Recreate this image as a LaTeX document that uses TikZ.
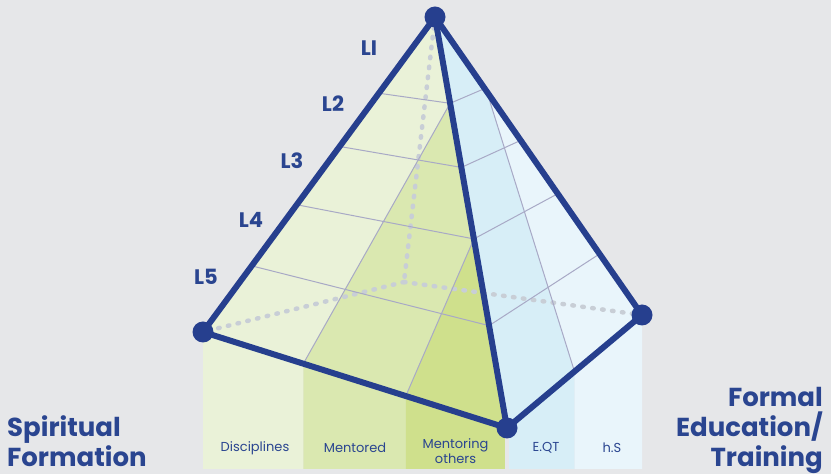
\documentclass[tikz,border=0pt]{standalone}
\usepackage{fontspec}
\setmainfont{Poppins}
\usetikzlibrary{calc}
\definecolor{bg}{HTML}{E6E7E9}
\definecolor{navy}{HTML}{263F8E}
\definecolor{txt}{HTML}{2A4590}
\definecolor{g1}{HTML}{EAF2D8}
\definecolor{g2}{HTML}{DAE8B0}
\definecolor{g3}{HTML}{CFE08C}
\definecolor{b1}{HTML}{D7EEF7}
\definecolor{b2}{HTML}{E9F5FB}
\definecolor{gridc}{HTML}{A8A9C6}
\definecolor{dotc}{HTML}{C8CED6}
\begin{document}
\begin{tikzpicture}[x=1pt,y=1pt,
 edge/.style={line width=6pt, draw=navy, line cap=round, line join=round},
 vert/.style={circle, fill=navy, inner sep=0pt, minimum size=21pt},
 gridline/.style={draw=gridc, line width=1pt},
 hidden/.style={draw=dotc, line width=4.5pt, line cap=round, dash pattern=on 1.5pt off 8.5pt},
 lvl/.style={font=\fontsize{21}{21}\selectfont\bfseries, text=txt, inner sep=0pt},
 cat/.style={font=\fontsize{13}{15}\selectfont, text=txt, align=center, inner sep=0pt},
 side/.style={font=\fontsize{26}{30}\selectfont\bfseries, text=txt, inner sep=0pt},
]
\fill[bg] (0,0) rectangle (831,474);
\useasboundingbox (0,0) rectangle (831,474);
% main vertices
\coordinate (A) at (435,457);
\coordinate (Lv) at (203,142);
\coordinate (B) at (507,46);
\coordinate (R) at (642,159);
\coordinate (H) at (404,192);
\coordinate (bot) at (0,5);
% points on edges
\coordinate (P1) at ($(Lv)!0.33!(B)$);
\coordinate (P2) at ($(Lv)!0.667!(B)$);
\coordinate (M) at ($(Lv)!0.9934!(B)$);
\coordinate (N) at ($(B)!0.015!(R)$);
\coordinate (Q1) at ($(A)!0.21!(B)$);
\coordinate (Q2) at ($(A)!0.54!(B)$);
\coordinate (S1) at ($(A)!0.25!(R)$);
\coordinate (S2) at ($(B)!0.5!(R)$);
\foreach \i/\tl/\tf/\tr in {2/0.242/0.21/0.24, 3/0.411/0.366/0.414, 4/0.596/0.54/0.593, 5/0.79/0.751/0.795}{
  \coordinate (l\i) at ($(A)!\tl!(Lv)$);
  \coordinate (f\i) at ($(A)!\tf!(B)$);
  \coordinate (r\i) at ($(A)!\tr!(R)$);
}
% strips
\fill[g1] (Lv |- bot) -- (Lv) -- (P1) -- (P1 |- bot) -- cycle;
\fill[g2] (P1 |- bot) -- (P1) -- (P2) -- (P2 |- bot) -- cycle;
\fill[g3] (P2 |- bot) -- (P2) -- (M) -- (M |- bot) -- cycle;
\fill[b1] (N |- bot) -- (N) -- (S2) -- (S2 |- bot) -- cycle;
\fill[b2] (S2 |- bot) -- (S2) -- (R) -- (R |- bot) -- cycle;
% faces
\fill[g1] (A) -- (Lv) -- (B) -- cycle;
\fill[g2] (P1) -- (Q1) -- (Q2) -- (P2) -- cycle;
\fill[g3] (P2) -- (Q2) -- (B) -- cycle;
\fill[b2] (A) -- (B) -- (R) -- cycle;
\fill[b1] (A) -- (B) -- (S2) -- (S1) -- cycle;
% hidden edges
\draw[hidden] (A) -- (H);
\draw[hidden] (H) -- (Lv);
\draw[hidden] (H) -- (R);
% grid
\draw[gridline] (P1) -- (Q1);
\draw[gridline] (P2) -- (Q2);
\draw[gridline] (S1) -- (S2);
\foreach \i in {2,3,4,5}{
  \draw[gridline] (l\i) -- (f\i) -- (r\i);
}
% edges
\draw[edge] (A) -- (Lv);
\draw[edge] (Lv) -- (B);
\draw[edge] (B) -- (R);
\draw[edge] (R) -- (A);
\draw[edge] (A) -- (B);
\node[vert] (vA) at (A) {};
\node[vert] (vL) at (Lv) {};
\node[vert] (vB) at (B) {};
\node[vert] (vR) at (R) {};
% level labels
\node[lvl] (t1) at (369,426) {LI};
\node[lvl] (t2) at (333,370) {L2};
\node[lvl] (t3) at (292,313) {L3};
\node[lvl] (t4) at (251,254) {L4};
\node[lvl] (t5) at (206,197) {L5};
% categories
\node[cat] (c1) at (255,26) {Disciplines};
\node[cat] (c2) at (355,26) {Mentored};
\node[cat] (c3) at (455.5,23) {Mentoring\\others};
\node[cat] (c4) at (546,26) {E.QT};
\node[cat] (c5) at (612,26) {h.S};
% side labels
\node[side, anchor=base west] (sp1) at (7,37) {Spiritual};
\node[side, anchor=base west] (sp2) at (7,7) {Formation};
\node[side, anchor=base east] (fe1) at (823,67) {Formal};
\node[side, anchor=base east] (fe2) at (823,37) {Education/};
\node[side, anchor=base east] (fe3) at (823,7) {Training};
\end{tikzpicture}
\end{document}
